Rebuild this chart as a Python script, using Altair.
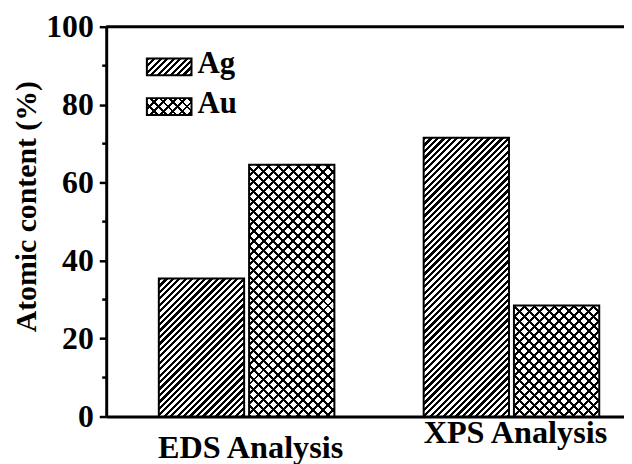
import altair as alt
import pandas as pd

# ---- data ----
categories = ["EDS Analysis", "XPS Analysis"]
series = ["Ag", "Au"]
ag_values = [35.4, 71.5]
au_values = [64.6, 28.5]
y_ticks = [0, 20, 40, 60, 80, 100]
minor_ticks = [10, 30, 50, 70, 90]

# ---- layout / style ----
FONT = "Liberation Serif"
W, H = 522, 393
PX = H / 100.0
BAR_W = 86

rows = []
for c, a, u in zip(categories, ag_values, au_values):
    rows.append({"category": c, "series": "Ag", "value": a})
    rows.append({"category": c, "series": "Au", "value": u})
df = pd.DataFrame(rows)


def hatch(w, h, period, frac, direction, bg):
    """Linear gradient with hard stops giving diagonal stripes at 45 deg in pixel space."""
    L = w + h
    n = int(L / period) + 2
    span = n * period
    lam = span / (w * w + h * h)
    if direction == "/":
        x1, y1, x2, y2 = 0, 0, lam * w, lam * h
    else:
        x1, y1, x2, y2 = 0, 1, lam * w, 1 - lam * h
    stops = []
    for k in range(n):
        a = round(k / n, 6)
        b = round((k + frac) / n, 6)
        c = round((k + 1) / n, 6)
        stops += [
            {"offset": a, "color": "black"},
            {"offset": b, "color": "black"},
            {"offset": b, "color": bg},
            {"offset": c, "color": bg},
        ]
    return {"gradient": "linear", "x1": x1, "y1": y1, "x2": x2, "y2": y2, "stops": stops}


xscale = alt.Scale(domain=categories, paddingInner=0.3371, paddingOuter=0.1461, align=0.68)
xoscale = alt.Scale(domain=series, paddingInner=0.055, paddingOuter=0)
yscale = alt.Scale(domain=[0, 100], nice=False, zero=True)

xaxis = alt.Axis(labels=False, ticks=False, title=None, domainWidth=3,
                 domainColor="black", grid=False)
yaxis = alt.Axis(values=y_ticks, title="Atomic content (%)", tickSize=7, tickWidth=2.5,
                 tickColor="black", domainWidth=3, domainColor="black", grid=False,
                 labelFont=FONT, labelFontSize=32, labelFontWeight="bold",
                 labelColor="black", labelPadding=6, labelFlush=False,
                 titleFont=FONT, titleFontSize=30, titleFontWeight="bold",
                 titleColor="black", titleX=-80, titleY=181, titleAngle=270,
                 titleBaseline="middle", titleAlign="center")

X = lambda: alt.X("category:N", scale=xscale, axis=xaxis)
Y = lambda f: alt.Y(f, scale=yscale, axis=yaxis)

base = alt.Chart(df)
layers = []
for r in rows:
    h = r["value"] * PX
    flt = (alt.datum.category == r["category"]) & (alt.datum.series == r["series"])
    enc = dict(x=X(), xOffset=alt.XOffset("series:N", scale=xoscale), y=Y("value:Q"))
    if r["series"] == "Ag":
        layers.append(base.transform_filter(flt).mark_bar(
            fill=hatch(BAR_W, h, 6.5, 0.5, "/", "white"),
            stroke="black", strokeWidth=2).encode(**enc))
    else:
        layers.append(base.transform_filter(flt).mark_bar(
            fill=hatch(BAR_W, h, 10, 0.3, "/", "white"),
            strokeWidth=0).encode(**enc))
        layers.append(base.transform_filter(flt).mark_bar(
            fill=hatch(BAR_W, h, 10, 0.3, "\\", "rgba(255,255,255,0)"),
            stroke="black", strokeWidth=2).encode(**enc))

# top frame line
top = alt.Chart(pd.DataFrame({"value": [100]})).mark_rule(color="black", strokeWidth=3).encode(
    y=Y("value:Q"))

# minor ticks on the y axis
minor = alt.Chart(pd.DataFrame({"value": minor_ticks})).mark_rule(color="black", strokeWidth=2.5).encode(
    y=Y("value:Q"), x=alt.value(-4), x2=alt.value(0))

# category labels (drawn at slightly different heights as in the reference)
cat_df = pd.DataFrame({"category": categories})
cat_y = {"EDS Analysis": 435, "XPS Analysis": 420}
cat_layers = []
for c in categories:
    cat_layers.append(alt.Chart(cat_df).transform_filter(alt.datum.category == c).mark_text(
        font=FONT, fontSize=32.5, fontWeight="bold", color="black", baseline="alphabetic",
        align="center", dx=4).encode(
        x=X(), y=alt.value(cat_y[c]), text="category:N"))

# legend
leg_df = pd.DataFrame({"series": series})
leg_layers = []
sw_x, sw_x2 = 41, 86
sw_y = {"Ag": 32, "Au": 72}
for s in series:
    y0 = sw_y[s]
    one = alt.Chart(leg_df).transform_filter(alt.datum.series == s)
    pos = dict(x=alt.value(sw_x), x2=alt.value(sw_x2), y=alt.value(y0), y2=alt.value(y0 + 17))
    if s == "Ag":
        leg_layers.append(one.mark_rect(fill=hatch(45, 17, 6.5, 0.5, "/", "white"),
                                        stroke="black", strokeWidth=2).encode(**pos))
    else:
        leg_layers.append(one.mark_rect(fill=hatch(45, 17, 9.5, 0.3, "/", "white"),
                                        strokeWidth=0).encode(**pos))
        leg_layers.append(one.mark_rect(fill=hatch(45, 17, 9.5, 0.3, "\\", "rgba(255,255,255,0)"),
                                        stroke="black", strokeWidth=2).encode(**pos))
    leg_layers.append(one.mark_text(font=FONT, fontSize=31, fontWeight="bold", color="black",
                                    align="left", baseline="alphabetic").encode(
        x=alt.value(92), y=alt.value(y0 + 15), text="series:N"))

chart = alt.layer(*layers, top, minor, *cat_layers, *leg_layers).properties(
    width=W, height=H,
    autosize=alt.AutoSizeParams(type="none"),
    padding={"left": 99, "top": 17, "right": 0, "bottom": 46},
).configure_view(stroke=None).configure(background="white")

chart.save("out.html", embed_options={"renderer": "svg", "actions": False})
